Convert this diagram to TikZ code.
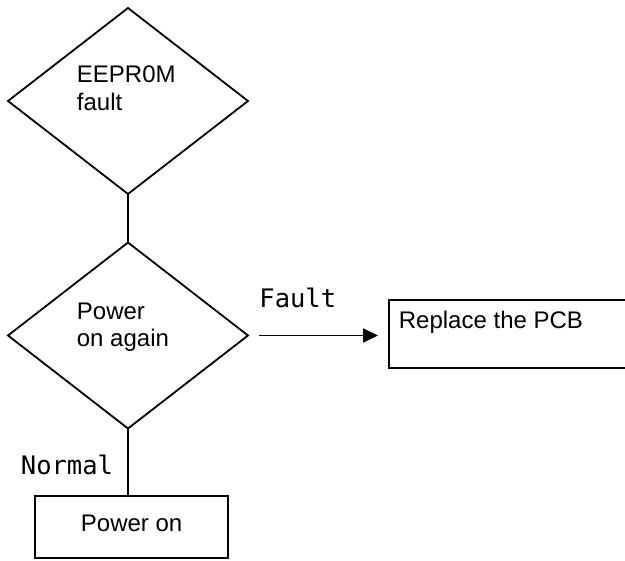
\documentclass[tikz,border=0pt]{standalone}
\usepackage{fontspec}
\setmainfont{Liberation Sans}
\newfontfamily\monof{DejaVu Sans Mono}
\usetikzlibrary{shapes.geometric,arrows.meta}
\begin{document}
\begin{tikzpicture}[x=1pt,y=-1pt,
  line width=1.8pt,
  decision/.style={diamond,draw,minimum width=240pt,minimum height=186pt,inner sep=0pt,outer sep=0pt},
  procbox/.style={rectangle,draw,inner sep=0pt,outer sep=0pt,anchor=north west},
  boxtext/.style={inner sep=0pt,anchor=north west,align=left,font=\fontsize{24}{27.5}\selectfont},
  edgelabel/.style={inner sep=0pt,anchor=base west,font=\monof\fontsize{25.5}{28}\selectfont},
  flow/.style={line width=1.8pt}]
\useasboundingbox (0,0) rectangle (625,561);
\clip (0,0) rectangle (625,561);
% decisions
\node[decision] (d1) at (128,101) {};
\node[decision] (d2) at (128,335.5) {};
\node[boxtext] (t1) at (76,65) {EEPR0M\\fault};
\node[boxtext] (t2) at (76,302) {Power\\on again};
% process boxes
\node[procbox,minimum width=260pt,minimum height=68pt] (pcb) at (389,300) {};
\node[boxtext] (t3) at (398,310) {Replace the PCB};
\node[procbox,minimum width=193pt,minimum height=62pt] (pwr) at (35,496) {};
\node[boxtext] (t4) at (80,514) {Power on};
% connectors
\draw[flow] (d1.south) -- (d2.north);
\draw[flow] (d2.south) -- (d2.south |- pwr.north);
\draw[flow,-{Triangle[length=15pt,width=14pt]},shorten <=11pt,shorten >=11pt] (d2.east) -- (d2.east -| pcb.west);
% labels
\node[edgelabel] (lf) at (258.5,308) {Fault};
\node[edgelabel] (ln) at (20,475) {Normal};
\end{tikzpicture}
\end{document}
